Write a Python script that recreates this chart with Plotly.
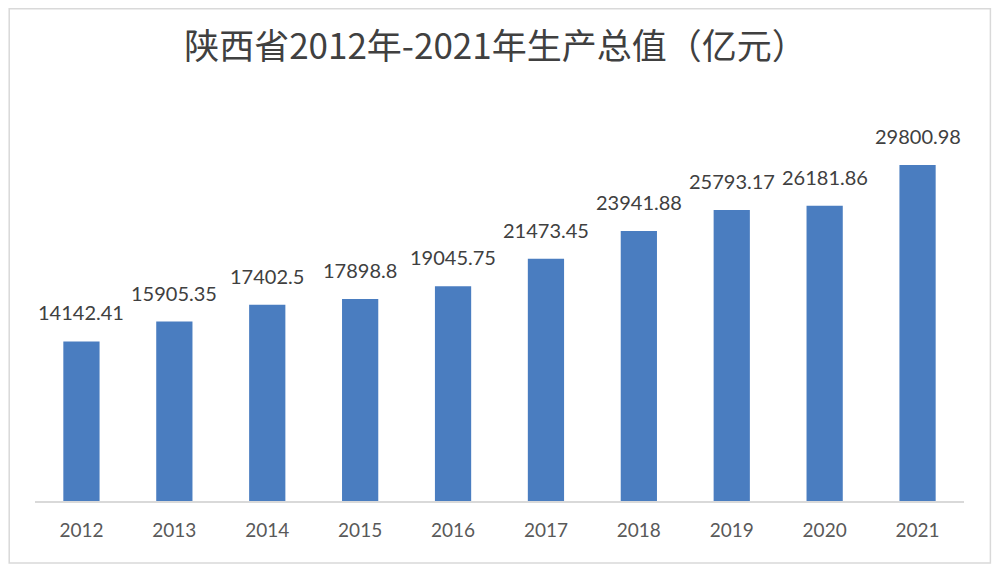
import plotly.graph_objects as go

years = ["2012", "2013", "2014", "2015", "2016", "2017", "2018", "2019", "2020", "2021"]
gdp = [14142.41, 15905.35, 17402.5, 17898.8, 19045.75, 21473.45, 23941.88, 25793.17, 26181.86, 29800.98]
labels = ["14142.41", "15905.35", "17402.5", "17898.8", "19045.75", "21473.45", "23941.88", "25793.17", "26181.86", "29800.98"]
title = "陕西省2012年-2021年生产总值（亿元）"

FW, FH = 992, 566
fig = go.Figure()
fig.add_trace(go.Bar(x=years, y=gdp, marker=dict(color="#4a7dc0", line=dict(width=0)),
                     hoverinfo="x+y"))

for i, (y, t) in enumerate(zip(gdp, labels)):
    fig.add_annotation(x=i, y=y, text=t, showarrow=False, yanchor="bottom",
                       yshift=15, font=dict(family="Lato, Open Sans, sans-serif", size=20, color="#404040"))

L, R, T, B = 26.6, 955.6, 112, 493
W, H = R - L, B - T
fig.add_shape(type="rect", xref="paper", yref="paper",
              x0=(0.8 - L) / W, x1=(982 - L) / W, y0=(B - 555) / H, y1=(B - 0.8) / H,
              line=dict(color="#d9d9d9", width=1.5), fillcolor="rgba(0,0,0,0)", layer="below")

fig.update_layout(
    width=FW, height=FH,
    margin=dict(l=L, r=FW - R, t=T, b=FH - B),
    paper_bgcolor="white", plot_bgcolor="white",
    title=dict(text=title, x=(487 - L) / W, xref="paper", xanchor="center", y=1 - 39 / FH, yanchor="middle",
               font=dict(family="Noto Sans CJK SC", size=35, color="#404040")),
    showlegend=False,
    xaxis=dict(type="category", range=[-0.5, 9.5], showline=True, linecolor="#d9d9d9", linewidth=1.5,
               ticks="", showgrid=False,
               tickfont=dict(family="Lato, Open Sans, sans-serif", size=19, color="#595959"),
               ticklabelstandoff=11),
    yaxis=dict(range=[0, 33780], visible=False, showgrid=False),
    bargap=0.61,
)

fig.write_html("out.html")
